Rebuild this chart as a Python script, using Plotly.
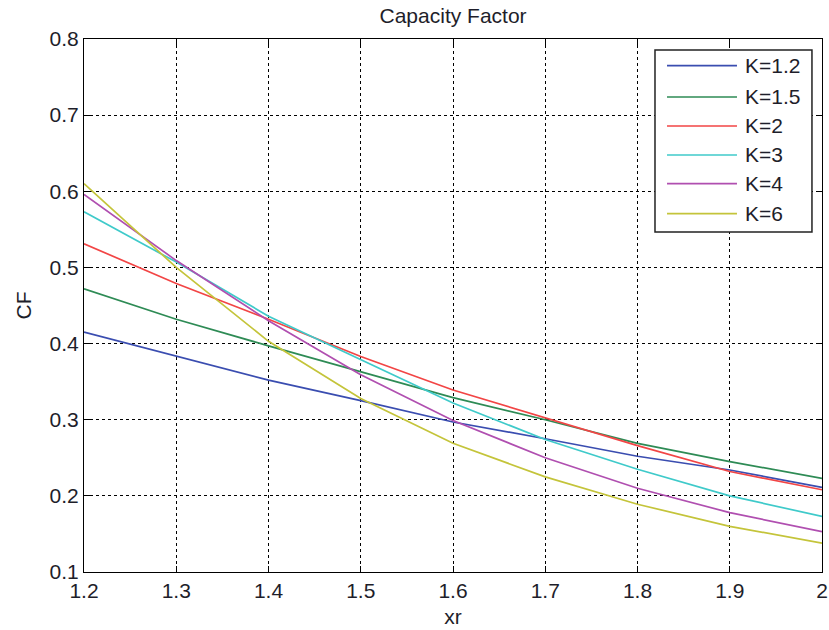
import plotly.graph_objects as go

# Ratio xr sampled every 0.1
xr = [1.2, 1.3, 1.4, 1.5, 1.6, 1.7, 1.8, 1.9, 2.0]

# Capacity factor for each shape parameter K
cf_k12 = [0.415, 0.383, 0.352, 0.325, 0.297, 0.275, 0.252, 0.234, 0.211]
cf_k15 = [0.472, 0.432, 0.397, 0.363, 0.329, 0.300, 0.269, 0.245, 0.223]
cf_k2 = [0.531, 0.479, 0.432, 0.383, 0.339, 0.302, 0.266, 0.232, 0.208]
cf_k3 = [0.573, 0.507, 0.436, 0.379, 0.322, 0.274, 0.235, 0.200, 0.173]
cf_k4 = [0.596, 0.509, 0.430, 0.359, 0.299, 0.250, 0.210, 0.178, 0.153]
cf_k6 = [0.610, 0.500, 0.403, 0.328, 0.269, 0.225, 0.189, 0.160, 0.138]

series_names = ["K=1.2", "K=1.5", "K=2", "K=3", "K=4", "K=6"]
series_values = [cf_k12, cf_k15, cf_k2, cf_k3, cf_k4, cf_k6]
series_colors = ["#3a4db0", "#2e8b55", "#f24545", "#3fcaca", "#b04fb0", "#c4c43a"]

x_ticks = [1.2, 1.3, 1.4, 1.5, 1.6, 1.7, 1.8, 1.9, 2.0]
x_tick_text = ["1.2", "1.3", "1.4", "1.5", "1.6", "1.7", "1.8", "1.9", "2"]
y_ticks = [0.1, 0.2, 0.3, 0.4, 0.5, 0.6, 0.7, 0.8]
y_tick_text = ["0.1", "0.2", "0.3", "0.4", "0.5", "0.6", "0.7", "0.8"]

FONT = "Liberation Sans, Arial, sans-serif"
TEXT = "#1e1e2a"
FS = 21

fig = go.Figure()
for name, vals, col in zip(series_names, series_values, series_colors):
    fig.add_trace(go.Scatter(x=xr, y=vals, mode="lines", name=name,
                             line=dict(color=col, width=1.7), showlegend=False))

axis_common = dict(
    showline=True, linecolor="black", linewidth=1.2, mirror="ticks",
    ticks="inside", ticklen=6, tickcolor="black", tickwidth=1.2,
    showgrid=True, gridcolor="black", gridwidth=1, griddash="dot",
    zeroline=False, automargin=False,
    tickfont=dict(family=FONT, size=FS, color=TEXT),
)

fig.update_xaxes(range=[1.2, 2.0], tickvals=x_ticks, ticktext=x_tick_text,
                 title=dict(text="xr", font=dict(family=FONT, size=FS, color=TEXT), standoff=8),
                 **axis_common)
fig.update_yaxes(range=[0.1, 0.8], tickvals=y_ticks, ticktext=y_tick_text,
                 title=dict(text="CF", font=dict(family=FONT, size=FS, color=TEXT), standoff=12),
                 **axis_common)

# Boxed legend in the upper-right corner of the axes, with long line samples
legend_box = dict(x0=0.7737, x1=0.9864, y0=0.6379, y1=0.9794)
legend_rows = [0.9499, 0.8912, 0.8368, 0.7824, 0.7285, 0.6722]
sample_x0, sample_x1, label_x = 0.790, 0.8848, 0.8934

shapes = [dict(type="rect", xref="paper", yref="paper", **legend_box,
               line=dict(color="#222", width=1.5), fillcolor="white", layer="above")]
annotations = []
for name, col, ry in zip(series_names, series_colors, legend_rows):
    shapes.append(dict(type="line", xref="paper", yref="paper",
                       x0=sample_x0, x1=sample_x1, y0=ry, y1=ry,
                       line=dict(color=col, width=1.7), layer="above"))
    annotations.append(dict(xref="paper", yref="paper", x=label_x, y=ry,
                            text=name, showarrow=False, xanchor="left", yanchor="middle",
                            font=dict(family=FONT, size=FS, color=TEXT)))

fig.update_layout(
    width=829, height=630,
    margin=dict(l=84, r=7, t=39, b=58),
    paper_bgcolor="white", plot_bgcolor="white",
    title=dict(text="Capacity Factor", x=0.5465, xanchor="center", y=0.975, yanchor="middle",
               font=dict(family=FONT, size=FS, color=TEXT)),
    font=dict(family=FONT, size=FS, color=TEXT),
    showlegend=False,
    shapes=shapes,
    annotations=annotations,
)

fig.write_html("out.html")
